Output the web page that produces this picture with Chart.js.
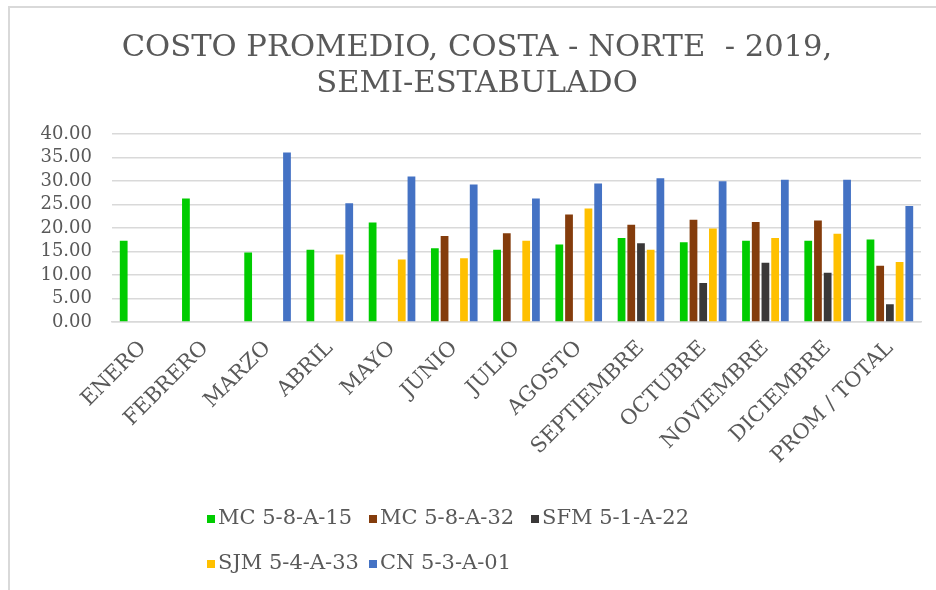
<!DOCTYPE html>
<html>
<head>
<meta charset="utf-8">
<script src="https://cdn.jsdelivr.net/npm/chart.js@4.4.1/dist/chart.umd.min.js"></script>
<style>
    body { margin: 0; background: #fff; overflow: hidden; }
    #marco { position: absolute; left: 8px; top: 6px; width: 960px; height: 620px; border: 2px solid #d9d9d9; }
    #caja { position: absolute; left: 0; top: 0; width: 936px; height: 590px; }
</style>
</head>
<body>
<div id="marco"></div>
<div id="caja"><canvas id="myChart" width="936" height="590"></canvas></div>
<script>
var meses = ['ENERO', 'FEBRERO', 'MARZO', 'ABRIL', 'MAYO', 'JUNIO', 'JULIO', 'AGOSTO',
    'SEPTIEMBRE', 'OCTUBRE', 'NOVIEMBRE', 'DICIEMBRE', 'PROM / TOTAL']

var nombres = ['MC 5-8-A-15', 'MC 5-8-A-32', 'SFM 5-1-A-22', 'SJM 5-4-A-33', 'CN 5-3-A-01']
var colores = ['#00CC00', '#843C0C', '#3A3838', '#FFC000', '#4472C4']

var mc15 = [17.3, 26.3, 14.8, 15.4, 21.2, 15.7, 15.4, 16.5, 17.9, 17.0, 17.3, 17.3, 17.6]
var mc32 = [null, null, null, null, null, 18.3, 18.9, 22.9, 20.7, 21.8, 21.3, 21.6, 12.0]
var sfm22 = [null, null, null, null, null, null, null, null, 16.8, 8.3, 12.6, 10.5, 3.8]
var sjm33 = [null, null, null, 14.4, 13.3, 13.6, 17.3, 24.2, 15.4, 19.9, 17.9, 18.8, 12.8]
var cn01 = [null, null, 36.1, 25.3, 31.0, 29.3, 26.3, 29.5, 30.6, 30.0, 30.3, 30.3, 24.7]

var series = [mc15, mc32, sfm22, sjm33, cn01]
var gris = '#595959'

var datasets = []
for (var i = 0; i < series.length; i++) {
    datasets.push({
        label: nombres[i],
        data: series[i],
        backgroundColor: colores[i],
        borderWidth: 0,
        barPercentage: 0.8,
        categoryPercentage: 0.78
    })
}

// leyenda de dos filas (3 + 2), columnas alineadas como en el excel
const leyendaAbajo = {
    id: 'leyendaAbajo',
    afterDraw: function (chart) {
        var c = chart.ctx
        c.save()
        c.font = Chart.helpers.toFont({ family: 'DejaVu Serif', size: 21 }).string
        c.textBaseline = 'middle'
        c.textAlign = 'left'
        chart.data.datasets.forEach(function (ds, i) {
            var x = 207 + (i % 3) * 162
            var y = 519 + Math.floor(i / 3) * 45
            c.fillStyle = ds.backgroundColor
            c.fillRect(x, y - 4, 8, 8)
            c.fillStyle = gris
            c.fillText(ds.label, x + 11, y)
        })
        c.restore()
    }
}

const ctx = document.getElementById('myChart')

new Chart(ctx, {
    type: 'bar',
    data: {
        labels: meses,
        datasets: datasets
    },
    plugins: [leyendaAbajo],
    options: {
        responsive: false,
        animation: false,
        layout: {
            padding: { top: 0, left: 33, right: 15, bottom: 100 }
        },
        plugins: {
            legend: { display: false },
            tooltip: { enabled: false },
            title: {
                display: true,
                text: ['COSTO PROMEDIO, COSTA - NORTE  - 2019,', 'SEMI-ESTABULADO'],
                color: gris,
                font: { family: 'DejaVu Serif', size: 30.6, weight: 'normal', lineHeight: 1.18 },
                padding: { top: 30, bottom: 32 }
            }
        },
        scales: {
            x: {
                grid: { display: false },
                border: { color: '#d9d9d9', width: 1.5 },
                ticks: {
                    color: gris,
                    font: { family: 'DejaVu Serif', size: 21 },
                    minRotation: 45,
                    maxRotation: 45,
                    autoSkip: false,
                    padding: 6
                },
                afterFit: function (scale) { scale.height = 168 }
            },
            y: {
                min: 0,
                max: 40,
                border: { display: false },
                grid: { color: '#d9d9d9', lineWidth: 1.5, drawTicks: false },
                ticks: {
                    stepSize: 5,
                    autoSkip: false,
                    color: gris,
                    font: { family: 'DejaVu Serif', size: 18 },
                    padding: 20,
                    callback: function (v) { return v.toFixed(2) }
                },
                afterFit: function (scale) { scale.width = 79 }
            }
        }
    }
})
</script>
</body>
</html>
